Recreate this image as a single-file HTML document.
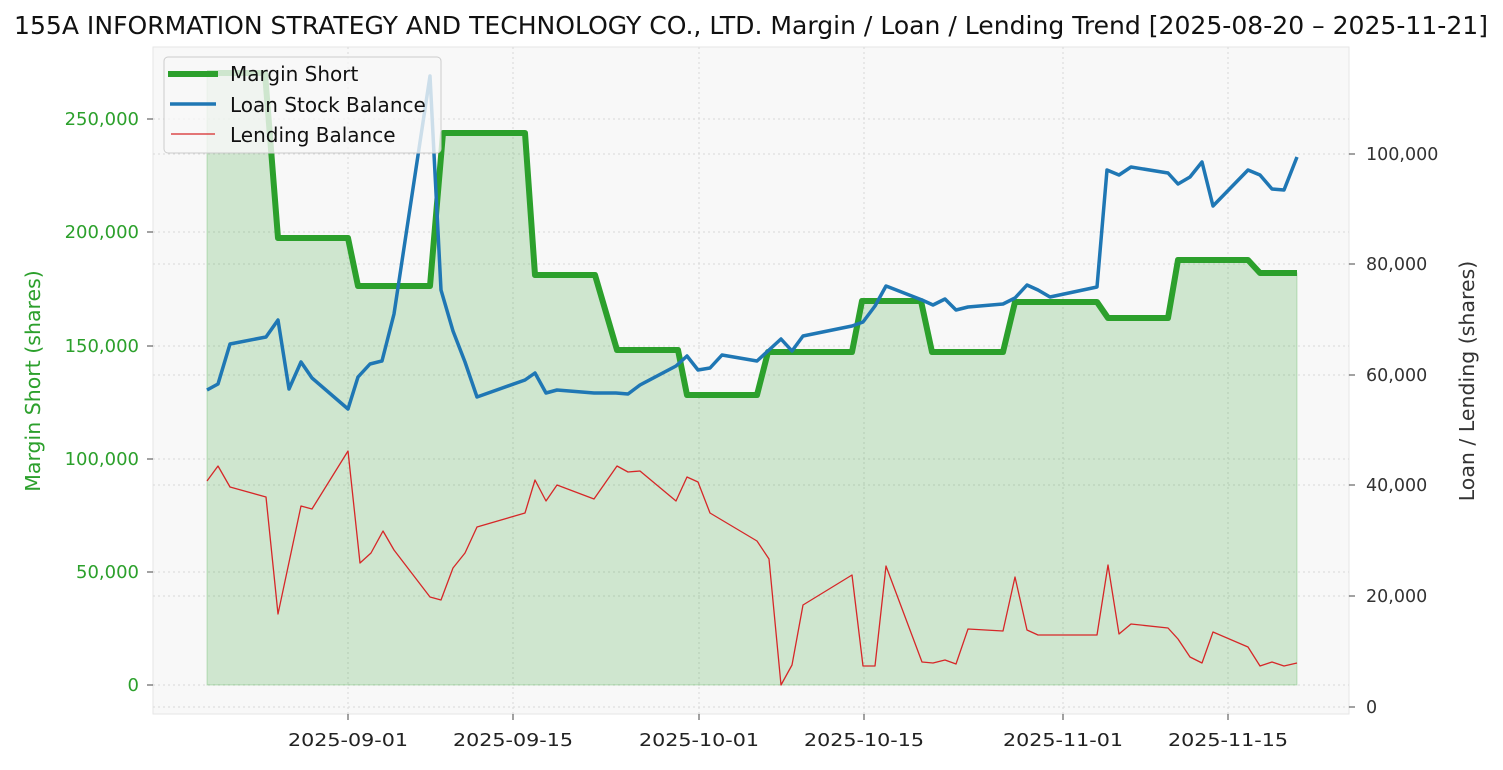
<!DOCTYPE html>
<html><head><meta charset="utf-8"><style>
body{margin:0;background:#fff;}
svg text{font-family:"DejaVu Sans","Liberation Sans",sans-serif;}
</style></head><body>
<svg width="1503" height="765" viewBox="0 0 1503 765" xmlns="http://www.w3.org/2000/svg">
<rect width="1503" height="765" fill="#fff"/>
<text x="751" y="34" font-size="25" text-anchor="middle" fill="#111" textLength="1474" lengthAdjust="spacingAndGlyphs">155A INFORMATION STRATEGY AND TECHNOLOGY CO., LTD. Margin / Loan / Lending Trend [2025-08-20 – 2025-11-21]</text>
<rect x="153" y="47" width="1196" height="667" fill="#f8f8f8" stroke="#e6e6e6"/>
<g stroke="#d8d8d8" stroke-dasharray="2,3" stroke-width="1">
<line x1="348" y1="47" x2="348" y2="714"/><line x1="513" y1="47" x2="513" y2="714"/><line x1="699" y1="47" x2="699" y2="714"/><line x1="864" y1="47" x2="864" y2="714"/><line x1="1063" y1="47" x2="1063" y2="714"/><line x1="1228" y1="47" x2="1228" y2="714"/>
<line x1="153" y1="685" x2="1349" y2="685"/><line x1="153" y1="572" x2="1349" y2="572"/><line x1="153" y1="459" x2="1349" y2="459"/><line x1="153" y1="346" x2="1349" y2="346"/><line x1="153" y1="232" x2="1349" y2="232"/><line x1="153" y1="119" x2="1349" y2="119"/>
<line x1="153" y1="707" x2="1349" y2="707"/><line x1="153" y1="596" x2="1349" y2="596"/><line x1="153" y1="485" x2="1349" y2="485"/><line x1="153" y1="375" x2="1349" y2="375"/><line x1="153" y1="264" x2="1349" y2="264"/><line x1="153" y1="154" x2="1349" y2="154"/>
</g>
<polygon fill="#2ca02c" fill-opacity="0.2" stroke="#2ca02c" stroke-opacity="0.25" points="207,685 207,73 265,73 278,238 348,238 358,286 430,286 443,133 525,133 535,275 595,275 617,350 678,350 687,395 757,395 768,352 852,352 862,301 921,301 932,352 1003,352 1015,302 1097,302 1108,318 1168,318 1178,260 1248,260 1260,273 1297,273 1297,685"/>
<polyline fill="none" stroke="#2ca02c" stroke-width="6" stroke-linejoin="round" points="207,73 265,73 278,238 348,238 358,286 430,286 443,133 525,133 535,275 595,275 617,350 678,350 687,395 757,395 768,352 852,352 862,301 921,301 932,352 1003,352 1015,302 1097,302 1108,318 1168,318 1178,260 1248,260 1260,273 1297,273"/>
<polyline fill="none" stroke="#1f77b4" stroke-width="3.5" stroke-linejoin="round" points="207,390 218,384 230,344 266,337 278,320 289,389 301,362 312,378 348,409 358,377 370,364 382,361 394,314 430,76 441,290 453,331 465,362 477,397 525,380 535,373 546,393 557,390 594,393 616,393 628,394 640,385 676,366 687,356 698,370 710,368 722,355 757,361 769,350 781,339 792,351 803,336 852,326 863,322 875,306 886,286 922,300 933,305 945,299 956,310 968,307 1003,304 1015,298 1027,285 1038,290 1050,297 1097,287 1107,170 1119,175 1131,167 1168,173 1178,184 1190,177 1202,162 1213,206 1248,170 1260,175 1272,189 1284,190 1297,157"/>
<polyline fill="none" stroke="#d62728" stroke-width="1.3" stroke-linejoin="round" points="207,481 218,466 230,487 266,497 278,614 301,506 312,509 348,451 360,563 371,553 383,531 394,550 430,597 441,600 453,568 465,553 477,527 525,513 535,480 546,501 557,485 594,499 617,466 628,472 640,471 676,501 687,477 698,482 710,513 757,541 769,559 781,685 792,665 803,605 852,575 863,666 875,666 886,566 922,662 933,663 945,660 956,664 968,629 1003,631 1015,577 1027,630 1038,635 1097,635 1108,565 1119,634 1131,624 1168,628 1178,639 1190,657 1202,663 1213,632 1248,647 1260,666 1272,662 1284,666 1297,663"/>
<g font-size="18" fill="#2ca02c" text-anchor="end">
<text x="139" y="691">0</text><text x="139" y="578">50,000</text><text x="139" y="465">100,000</text><text x="139" y="352">150,000</text><text x="139" y="238">200,000</text><text x="139" y="125">250,000</text>
</g>
<g stroke="#444"><line x1="147" y1="685" x2="153" y2="685"/><line x1="147" y1="572" x2="153" y2="572"/><line x1="147" y1="459" x2="153" y2="459"/><line x1="147" y1="346" x2="153" y2="346"/><line x1="147" y1="232" x2="153" y2="232"/><line x1="147" y1="119" x2="153" y2="119"/>
<line x1="1349" y1="707" x2="1355" y2="707"/><line x1="1349" y1="596" x2="1355" y2="596"/><line x1="1349" y1="485" x2="1355" y2="485"/><line x1="1349" y1="375" x2="1355" y2="375"/><line x1="1349" y1="264" x2="1355" y2="264"/><line x1="1349" y1="154" x2="1355" y2="154"/>
<line x1="348" y1="714" x2="348" y2="720"/><line x1="513" y1="714" x2="513" y2="720"/><line x1="699" y1="714" x2="699" y2="720"/><line x1="864" y1="714" x2="864" y2="720"/><line x1="1063" y1="714" x2="1063" y2="720"/><line x1="1228" y1="714" x2="1228" y2="720"/></g>
<g font-size="17.5" fill="#333">
<text x="1366" y="713">0</text><text x="1366" y="602">20,000</text><text x="1366" y="491">40,000</text><text x="1366" y="381">60,000</text><text x="1366" y="270">80,000</text><text x="1366" y="160">100,000</text>
</g>
<g font-size="18" fill="#222" text-anchor="middle">
<text x="348" y="746" textLength="120" lengthAdjust="spacingAndGlyphs">2025-09-01</text><text x="513" y="746" textLength="120" lengthAdjust="spacingAndGlyphs">2025-09-15</text><text x="699" y="746" textLength="120" lengthAdjust="spacingAndGlyphs">2025-10-01</text><text x="864" y="746" textLength="120" lengthAdjust="spacingAndGlyphs">2025-10-15</text><text x="1063" y="746" textLength="120" lengthAdjust="spacingAndGlyphs">2025-11-01</text><text x="1228" y="746" textLength="120" lengthAdjust="spacingAndGlyphs">2025-11-15</text>
</g>
<text transform="translate(40,381) rotate(-90)" font-size="20.5" fill="#2ca02c" text-anchor="middle">Margin Short (shares)</text>
<text transform="translate(1474,381) rotate(-90)" font-size="20.5" fill="#333" text-anchor="middle">Loan / Lending (shares)</text>
<rect x="164" y="57" width="277" height="96" rx="4" fill="#f8f8f8" fill-opacity="0.8" stroke="#ccc"/>
<line x1="168" y1="74" x2="218" y2="74" stroke="#2ca02c" stroke-width="6"/>
<line x1="170" y1="104" x2="216" y2="104" stroke="#1f77b4" stroke-width="3.5"/>
<line x1="171" y1="134" x2="215" y2="134" stroke="#d62728" stroke-width="1.3"/>
<g font-size="20" fill="#111"><text x="230" y="81">Margin Short</text><text x="230" y="112">Loan Stock Balance</text><text x="230" y="142">Lending Balance</text></g>
</svg>
</body></html>
